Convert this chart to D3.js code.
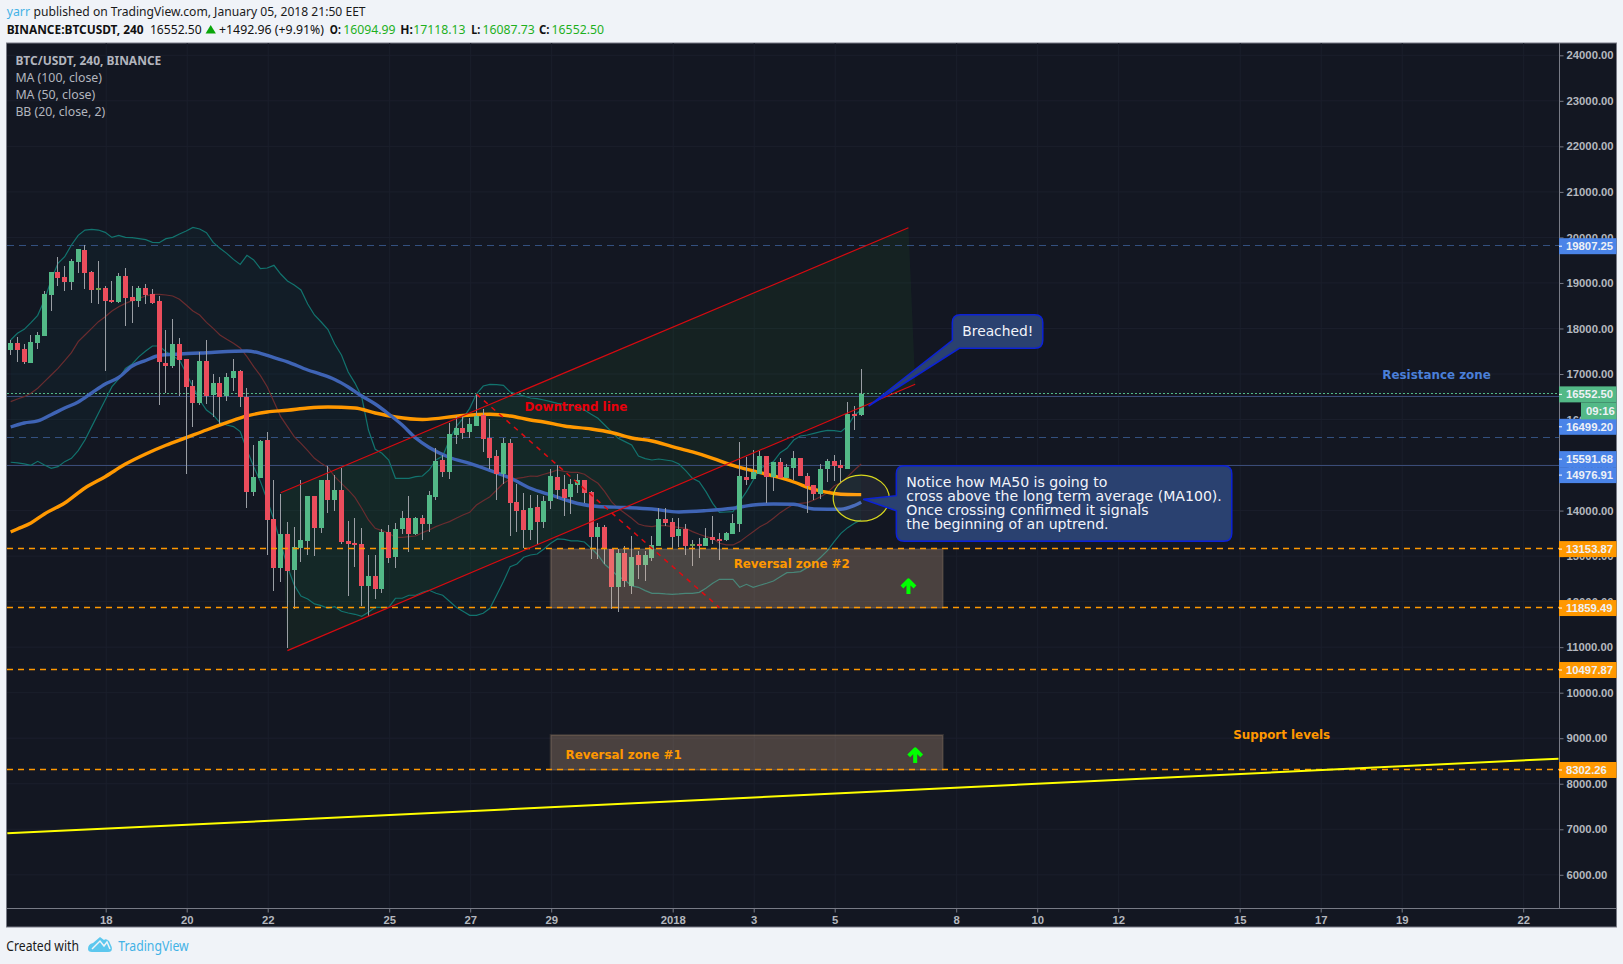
<!DOCTYPE html>
<html><head><meta charset="utf-8">
<script src="https://cdnjs.cloudflare.com/ajax/libs/d3/7.8.5/d3.min.js"></script>
<style>html,body{margin:0;padding:0;background:#f0f3f8;overflow:hidden}svg{display:block}</style>
</head><body><svg id="c" width="1623" height="964"></svg>
<script>
// ---- data: candles [open, high, low, close], 4h bars starting 15 Dec 2017 16:00 UTC
const candles = [
[17527,17747,17417,17681],[17681,17805,17264,17527],[17549,17652,17220,17264],[17242,17857,17242,17703],[17681,17923,17549,17857],
[17835,18823,17835,18757],[18735,19240,18384,19240],[19240,19570,18933,19108],[19130,19372,18823,19020],[19020,19526,18845,19482],
[19460,19745,19218,19745],[19723,19833,18867,19218],[19240,19260,18559,18845],[18845,19482,18537,18889],[18889,18933,17066,18603],
[18625,19042,18559,18581],[18581,19218,18559,19152],[19152,19328,18054,18669],[18691,18933,18120,18603],[18603,18933,18471,18889],
[18889,18977,18537,18735],[18757,18867,18537,18559],[18603,18713,16319,17264],[17242,17966,16583,17176],[17176,18208,17132,17659],
[17659,17791,16517,17308],[17330,17330,14804,16715],[16737,16868,15836,16363],[16363,17483,16319,17286],[17286,17747,16341,16517],
[16539,17000,16056,16803],[16803,16934,15902,16495],[16517,17022,16407,16934],[16912,17330,16627,17066],[17066,17088,16275,16495],
[16495,16693,14057,14409],[14409,15441,14321,14738],[14716,15551,14716,15529],[15551,15726,13025,13794],[13816,14672,12235,12740],
[12740,14365,12432,13486],[13486,13750,10976,12674],[12696,13640,11839,13201],[13179,14672,12871,13355],[13333,14321,13025,14321],
[14321,14321,13003,13618],[13618,14672,13508,14672],[14672,14980,13948,14233],[14233,14782,13991,14453],[14453,14936,13267,13311],
[13333,13772,12125,13267],[13289,13838,12762,13267],[13267,13618,11905,12345],[12345,13025,11686,12564],[12564,13025,12059,12279],
[12279,13596,12191,13530],[13530,13684,12849,12959],[12981,13728,12740,13596],[13596,13991,13486,13838],[13838,14321,13091,13486],
[13486,13860,13464,13838],[13838,13904,13355,13706],[13706,14431,13530,14343],[14299,15375,14233,15089],[15111,15221,14738,14848],
[14848,15924,14694,15682],[15660,16078,15463,15814],[15814,16078,15573,15704],[15726,16034,15595,15902],[15858,16561,15858,16078],
[16100,16231,15287,15573],[15595,16012,14914,15155],[15199,15331,14233,14804],[14804,15595,14584,15485],[15485,15573,13442,14167],
[14189,14584,13530,13991],[14013,14387,13179,13574],[13574,14343,13355,14057],[14079,14343,13245,13750],[13750,14321,13618,14211],
[14211,14914,14035,14760],[14738,15002,14255,14453],[14475,14782,13882,14277],[14299,14694,13926,14584],[14562,14804,14387,14672],
[14672,14672,14167,14387],[14409,14431,12937,13420],[13420,13728,12937,13640],[13640,13684,12827,13157],[13157,13157,11839,12322],
[12322,13157,11774,13069],[13069,13223,12322,12454],[12345,13442,12169,12981],[13025,13113,12498,12806],[12806,13113,12454,13025],
[12959,13442,12893,13245],[13223,14057,13223,13816],[13816,14057,13662,13728],[13750,13838,13179,13420],[13442,13838,13201,13596],
[13596,13706,13025,13223],[13223,13355,12784,13267],[13267,13398,12959,13245],[13223,13618,13223,13398],[13420,13882,13267,13355],
[13377,13508,12915,13355],[13355,13530,13333,13508],[13486,13926,13486,13728],[13706,15499,13530,14760],[14738,15177,14562,14672],
[14694,15331,14694,14848],[14804,15309,14804,15199],[15199,15199,14167,14738],[14738,15067,14431,15067],[15067,15155,14716,14716],
[14716,15024,14716,14958],[14936,15309,14672,15155],[15155,15155,14760,14760],[14760,14826,13948,14540],[14562,14562,14233,14365],
[14365,15024,14255,14914],[14914,15133,14628,15089],[15089,15221,14650,14980],[15002,15111,14628,14936],[14914,16385,14914,16122],
[16122,16297,15770,16100],[16094.99,17118.13,16087.73,16552.50]];

const bbUpper = [17747,17893,17981,18127,18288,18625,19064,19430,19577,19833,20045,20162,20177,20162,20111,20001,20045,20001,19994,19972,19950,19892,19884,19972,20001,20075,20140,20221,20184,20104,19892,19760,19650,19518,19408,19606,19504,19313,19328,19387,19196,19042,18955,18845,18537,18296,18142,17977,17659,17417,17044,16800,16500,15770,15346,15258,15111,14709,14709,14709,14745,14760,14892,15111,15199,15550,15843,16026,16246,16561,16736,16773,16766,16751,16605,16561,16517,16473,16458,16429,16392,16356,16334,16319,16268,16209,16114,16026,15880,15734,15587,15514,15441,15199,15141,15111,15133,15111,15089,15023,14877,14709,14636,14416,14160,13962,13969,13977,14196,14416,14672,14928,15002,15075,15272,15368,15550,15638,15660,15697,15733,15763,15756,15733,15858,16100,16209];
const bbLower = [15061,15046,15024,14995,15082,15002,14929,14965,15075,15148,15317,15551,15844,16136,16429,16722,16890,17125,17220,17381,17505,17615,17615,17491,17395,17308,17015,16722,16429,16210,16100,15932,15880,15844,15734,15331,14965,14636,14233,13794,13281,12769,12366,12125,12059,11949,11913,11854,11890,11788,11751,11722,11678,11766,11876,11876,11876,12074,12074,12140,12140,12206,12249,12183,12140,12008,11876,11788,11700,11700,11744,11854,12147,12440,12769,12827,12974,13025,13047,13157,13281,13377,13369,13333,13333,13311,13172,13025,12820,12696,12549,12476,12345,12315,12242,12183,12183,12169,12161,12169,12183,12183,12205,12293,12403,12491,12491,12491,12315,12381,12315,12359,12403,12454,12549,12637,12644,12659,12747,12842,12974,13120,13318,13501,13625,13721,13794];
const bbBasis = [16393,16451,16502,16576,16686,16832,16978,17125,17293,17469,17710,17857,18003,18149,18259,18384,18479,18552,18611,18662,18713,18750,18750,18735,18713,18640,18515,18384,18296,18135,18003,17857,17762,17674,17571,17381,17161,16964,16722,16393,16063,15844,15624,15478,15316,15148,15038,14950,14745,14599,14453,14291,14050,13794,13611,13559,13501,13413,13413,13428,13442,13515,13574,13647,13706,13757,13830,13904,13962,14123,14218,14306,14453,14599,14687,14709,14731,14760,14753,14797,14840,14892,14862,14840,14840,14797,14694,14599,14416,14196,14050,13940,13830,13706,13662,13647,13677,13669,13647,13633,13611,13537,13479,13428,13391,13281,13245,13245,13318,13428,13537,13647,13720,13830,13955,14050,14138,14160,14174,14233,14306,14394,14540,14614,14745,14892,15024];

const ma100Bars = [1,2,4,6,9,12,15,18,21,24,27,30,33,36,39,42,45,48,52,55,58,62,68,72,75,78,80,83,87,90,93,96,99,102,105,108,111,114,117,120,123,125,127];
const ma100Vals = [13530,13596,13728,13926,14167,14497,14745,15021,15243,15434,15601,15770,15930,16078,16166,16203,16253,16275,16253,16144,16056,16001,16089,16115,16078,15990,15946,15858,15792,15715,15595,15529,15404,15287,15149,14991,14870,14760,14628,14464,14376,14354,14350];
const ma50Bars = [1,3,5,7,9,11,13,15,17,19,21,23,26,30,36,38,40,42,45,47,49,51,53,55,57,59,61,63,66,69,72,75,78,81,85,88,92,96,100,104,108,111,114,117,120,124,126,127];
const ma50Vals = [15836,15924,15968,16106,16253,16385,16583,16780,16923,17176,17296,17406,17439,17468,17505,17455,17358,17268,17088,16993,16879,16715,16517,16341,16122,15880,15595,15386,15166,15035,14881,14716,14490,14343,14156,14090,14068,14035,13970,13998,14051,14123,14145,14138,14035,14029,14112,14183];

const priceTicks = d3.range(6000, 25000, 1000);
const timeTickDates = ["2017-12-18","2017-12-20","2017-12-22","2017-12-25","2017-12-27","2017-12-29","2018-01-01","2018-01-03","2018-01-05","2018-01-08","2018-01-10","2018-01-12","2018-01-15","2018-01-17","2018-01-19","2018-01-22"];
const timeTickLabels = ["18","20","22","25","27","29","2018","3","5","8","10","12","15","17","19","22"];

const blueDashLevels = [19807.25, 15591.68];
const blueSolidLevels = [16499.20, 14976.91];
const orangeLevels = [13153.87, 11859.49, 10497.87, 8302.26];
const lastPrice = 16552.50;
const blueLabels = [19807.25, 16499.20, 15591.68, 14976.91];
const blueLabelNudges = [0, 30, 21, 9];

// drawings, anchored at [bar number, price]
const channelUpper = [[41,14393],[134,20213]];
const channelLower = [[135,16774],[42,10924]];
const downtrend = [[70,16561],[106,11868]];
const supportLine = [[0.5,6910],[230.3,8551]];
const zone2 = {bars:[81,139.1], prices:[13153.87,11859.49]};
const zone1 = {bars:[81,139.1], prices:[9072,8302.26]};
const arrows = [[134,12498],[135,8787]];
const textNotes = [
 {t:"Downtrend line", at:[77.1,16187], c:"#e8000b"},
 {t:"Reversal zone #2", at:[108.1,12740], c:"#ff9800"},
 {t:"Reversal zone #1", at:[83.2,8545], c:"#ff9800"},
 {t:"Resistance zone", at:[204.2,16890], c:"#4a7fd8"},
 {t:"Support levels", at:[182.1,8985], c:"#ff9800"}];
const breached = {box:[[140.5,18302],[153.9,17564]], tip:[128.1,16297], lines:["Breached!"], size:13.8};
const notice = {box:[[132.2,14986],[181.9,13326]], tip:[127.3,14248], size:14.1,
 lines:["Notice how MA50 is going to","cross above the long term average (MA100).","Once crossing confirmed it signals","the beginning of an uptrend."]};
const crossingEllipse = [127,14273];

// ---- scales
const H4 = 4*3600*1000, t0 = Date.UTC(2017,11,15,16);
const barDate = b => new Date(t0 + (b-1)*H4);
const L = {left:7, right:1559, top:43, bottom:908, frameR:1616.5, frameB:927};
const x = d3.scaleUtc().domain([barDate(1), barDate(127)]).range([10.7, 861.2]);
const y = d3.scaleLinear().domain([6000,17000]).range([874.8,374]);
const X = b => x(barDate(b));
const svg = d3.select("#c");
svg.append("defs").append("clipPath").attr("id","plot").append("rect")
  .attr("x",L.left).attr("y",L.top).attr("width",L.right-L.left).attr("height",L.bottom-L.top);

const FONT = "'Noto Sans',sans-serif", VERD = "'DejaVu Sans',sans-serif", AR = "'Liberation Sans',Arial,sans-serif";
svg.append("rect").attr("width",1623).attr("height",964).attr("fill","#f0f3f8");
svg.append("rect").attr("x",6.5).attr("y",43).attr("width",L.frameR-6.5).attr("height",L.frameB-43)
  .attr("fill","#131722").attr("stroke","#787b86").attr("stroke-width",1);

const tickDates = timeTickDates.map(d=>new Date(d+"T00:00:00Z"));
const plot = svg.append("g").attr("clip-path","url(#plot)");
// grid
plot.append("g").selectAll("line").data(tickDates).join("line")
  .attr("x1",d=>x(d)+1).attr("x2",d=>x(d)+1).attr("y1",L.top).attr("y2",L.bottom).attr("stroke","#1b1f2c");
plot.append("g").selectAll("line").data(priceTicks).join("line")
  .attr("x1",L.left).attr("x2",L.right).attr("y1",d=>y(d)).attr("y2",d=>y(d)).attr("stroke","#1b1f2c");

// Bollinger
const barIdx = bbUpper.map((_,i)=>i+1);
plot.append("path").datum(barIdx).attr("fill","rgba(0,150,136,0.05)")
  .attr("d",d3.area().x(b=>X(b)).y0(b=>y(bbLower[b-1])).y1(b=>y(bbUpper[b-1])));
// channel fill
const chanPoly = channelUpper.concat(channelLower);
plot.append("path").datum(chanPoly).attr("fill","rgba(40,160,40,0.09)")
  .attr("d",d3.line().x(d=>X(d[0])).y(d=>y(d[1])));

// horizontal levels
const hl = (vals,stroke,dash,w)=>plot.append("g").selectAll("line").data(vals).join("line")
  .attr("x1",L.left).attr("x2",L.right).attr("y1",d=>Math.round(y(d))-.5).attr("y2",d=>Math.round(y(d))-.5)
  .attr("stroke",stroke).attr("stroke-width",w||1).attr("stroke-dasharray",dash);
hl(blueDashLevels,"#33507f","7 5");
hl(blueSolidLevels,"#3a4c78",null);
hl([lastPrice],"#53b987","2 2");

// BB + MA lines
[[bbUpper,"#12736e"],[bbLower,"#12736e"],[bbBasis,"#6a2c2f"]].forEach(([s,c])=>{
  plot.append("path").datum(barIdx).attr("fill","none").attr("stroke",c).attr("stroke-width",1.2)
    .attr("d",d3.line().x(b=>X(b)).y(b=>y(s[b-1])));
});
plot.append("path").datum(ma100Bars).attr("fill","none").attr("stroke","#ff9800").attr("stroke-width",3.4).attr("stroke-linejoin","round")
  .attr("d",d3.line().curve(d3.curveMonotoneX).x(b=>X(b)).y((b,i)=>y(ma100Vals[i])));
plot.append("path").datum(ma50Bars).attr("fill","none").attr("stroke","#3f64b5").attr("stroke-width",3.4).attr("stroke-linejoin","round")
  .attr("d",d3.line().curve(d3.curveMonotoneX).x(b=>X(b)).y((b,i)=>y(ma50Vals[i])));

// candles
const cg = plot.append("g").attr("shape-rendering","crispEdges");
const cs = cg.selectAll("g").data(candles).join("g");
const left = (d,i)=>Math.round(X(i+1)-2.5);
cs.append("rect").attr("x",(d,i)=>left(d,i)+2).attr("width",1)
  .attr("y",d=>y(d[1])).attr("height",d=>Math.max(1,y(d[2])-y(d[1]))).attr("fill","#9a9ea4");
cs.append("rect").attr("x",left).attr("width",5)
  .attr("y",d=>y(Math.max(d[0],d[3]))).attr("height",d=>Math.max(2,Math.abs(y(d[0])-y(d[3]))))
  .attr("fill",d=>d[3]>=d[0]?(d[3]-d[0]<50?"#6f9f4f":"#53b987"):"#eb4d5c");

// zones
[zone2,zone1].forEach(z=>{
  plot.append("rect").attr("x",X(z.bars[0])).attr("width",X(z.bars[1])-X(z.bars[0]))
   .attr("y",y(z.prices[0])).attr("height",y(z.prices[1])-y(z.prices[0]))
   .attr("fill","rgba(240,190,150,0.25)").attr("stroke","rgba(240,200,150,0.14)").attr("stroke-width",2);
});
hl(orangeLevels,"#ff9800","6 5",1.6);

// channel, downtrend, support
const ptLine = d3.line().x(d=>X(d[0])).y(d=>y(d[1]));
plot.append("path").attr("d",ptLine(channelUpper)).attr("stroke","#d60a10").attr("stroke-width",1.2).attr("fill","none");
plot.append("path").attr("d",ptLine(channelLower)).attr("stroke","#d60a10").attr("stroke-width",1.2).attr("fill","none");
plot.append("path").attr("d",ptLine(downtrend)).attr("stroke","#e00a10").attr("stroke-width",1.5).attr("fill","none").attr("stroke-dasharray","5 5");
plot.append("path").attr("d",ptLine(supportLine)).attr("stroke","#ffff00").attr("stroke-width",2).attr("fill","none");

// arrows
plot.append("g").selectAll("path").data(arrows).join("path")
  .attr("transform",d=>`translate(${X(d[0])},${y(d[1])})`)
  .attr("d","M0,15V3M-6.5,8L0,1.5L6.5,8").attr("fill","none").attr("stroke","#00ff00").attr("stroke-width",4).attr("stroke-linejoin","round");

// text notes
plot.append("g").selectAll("text").data(textNotes).join("text")
  .attr("x",d=>X(d.at[0])).attr("y",d=>y(d.at[1])).attr("fill",d=>d.c)
  .attr("font-family",VERD).attr("font-weight","bold").attr("font-size",11.9).text(d=>d.t);

// ellipse
plot.append("ellipse").attr("cx",X(crossingEllipse[0])).attr("cy",y(crossingEllipse[1])).attr("rx",28).attr("ry",23)
  .attr("fill","rgba(255,255,255,0.06)").attr("stroke","#d8d81e").attr("stroke-width",1.2);

// callouts
[breached,notice].forEach(n=>{
  const x0=X(n.box[0][0]), x1=X(n.box[1][0]), y0=y(n.box[0][1]), y1=y(n.box[1][1]), r=8;
  const tx=X(n.tip[0]), ty=y(n.tip[1]);
  const single = n.lines.length===1;
  const d = single
   ? `M${x0+r},${y0}H${x1-r}Q${x1},${y0} ${x1},${y0+r}V${y1-r}Q${x1},${y1} ${x1-r},${y1}H${x0+7}L${tx},${ty}L${x0},${y1-8}V${y0+r}Q${x0},${y0} ${x0+r},${y0}Z`
   : `M${x0+r},${y0}H${x1-r}Q${x1},${y0} ${x1},${y0+r}V${y1-r}Q${x1},${y1} ${x1-r},${y1}H${x0+r}Q${x0},${y1} ${x0},${y1-r}V${y0+45}L${tx},${ty}L${x0},${y0+30}V${y0+r}Q${x0},${y0} ${x0+r},${y0}Z`;
  plot.append("path").attr("d",d).attr("fill","#2a4170").attr("stroke","#0c22d6").attr("stroke-width",1.5);
  n.lines.forEach((t,i)=>{
    plot.append("text").attr("x",x0+10).attr("y",single?y0+21.5:y0+21.5+i*14)
      .attr("fill","#f2f4fa").attr("font-family",VERD).attr("font-size",n.size).text(t);
  });
});

// axes
const yAxis = d3.axisRight(y).tickValues(priceTicks).tickFormat(d3.format(".2f")).tickSize(4).tickPadding(3);
const ya = svg.append("g").attr("transform",`translate(${L.right+.5},0)`).call(yAxis);
const xAxis = d3.axisBottom(x).tickValues(tickDates).tickFormat((d,i)=>timeTickLabels[i]).tickSize(4).tickPadding(3);
const xa = svg.append("g").attr("transform",`translate(0.5,${L.bottom+.5})`).call(xAxis);
[ya,xa].forEach(a=>{
  a.selectAll("text").attr("font-family",AR).attr("font-size",11.3).attr("font-weight","bold").attr("fill","#b4b7bf");
  a.selectAll("line").attr("stroke","#787b86");
  a.select(".domain").remove();
});
svg.append("line").attr("x1",L.right+.5).attr("x2",L.right+.5).attr("y1",L.top).attr("y2",L.bottom+.5).attr("stroke","#787b86");
svg.append("line").attr("x1",L.left).attr("x2",L.frameR).attr("y1",L.bottom+.5).attr("y2",L.bottom+.5).attr("stroke","#787b86");

// price labels
const pl = svg.append("g");
const tag = (val,cy,fill)=>{
  pl.append("rect").attr("x",L.right).attr("y",cy-8).attr("width",L.frameR-L.right).attr("height",16).attr("fill",fill);
  pl.append("line").attr("x1",L.right).attr("x2",L.right+3).attr("y1",cy).attr("y2",cy).attr("stroke","#fff");
  pl.append("text").attr("x",L.right+7).attr("y",cy+4).attr("fill","#eef1f6").attr("font-family",AR).attr("font-weight","bold").attr("font-size",11.3).text(val);
};
blueLabels.forEach((v,i)=>tag(v.toFixed(2),y(v)+blueLabelNudges[i],"#4a84e8"));
orangeLevels.forEach(v=>tag(v.toFixed(2),y(v),"#ff9800"));
tag(lastPrice.toFixed(2),y(lastPrice),"#53b987");
pl.append("rect").attr("x",1581).attr("y",y(lastPrice)+8).attr("width",L.frameR-1581).attr("height",17).attr("fill","#53b987");
pl.append("text").attr("x",1586).attr("y",y(lastPrice)+20.5).attr("fill","#eef1f6").attr("font-family",AR).attr("font-weight","bold").attr("font-size",11.3).text("09:16");

// text fitted to measured widths (the reference's UI face is narrower than the installed ones)
const put=(xp,yp,t,c,w,b,fs)=>{
  const e=svg.append("text").attr("x",xp).attr("y",yp).attr("fill",c).attr("font-family",FONT).attr("font-size",fs||12.6).attr("font-weight",b?"bold":null).text(t);
  if(w) e.attr("textLength",w).attr("lengthAdjust","spacingAndGlyphs");
  return e;
};
// legend
[["BTC/USDT, 240, BINANCE",145.9,1],["MA (100, close)",86.6,0],["MA (50, close)",79.9,0],["BB (20, close, 2)",89.8,0]]
  .forEach((r,i)=>put(15.4,65+i*17,r[0],"#b2b5be",r[1],r[2]));

// header
put(6.7,16,"yarr","#43b2e6",23.3);
put(33.6,16,"published on TradingView.com, January 05, 2018 21:50 EET","#1a1a1a",332);
const green="#1eb01e", ink="#111";
put(6.7,33.5,"BINANCE:BTCUSDT, 240",ink,137,1);
put(149.9,33.5,"16552.50",ink,51.8);
svg.append("path").attr("d","M205.6,33.5L210.7,25L215.9,33.5Z").attr("fill","#0aa60a");
put(219,33.5,"+1492.96 (+9.91%)",ink,105);
[["O:",329.8,11,"16094.99",343.2],["H:",400.2,12.6,"17118.13",413.2],["L:",471.3,9,"16087.73",482.4],["C:",539,10.5,"16552.50",551.6]].forEach(r=>{
  put(r[1],33.5,r[0],ink,r[2],1); put(r[4],33.5,r[3],green,52.4);
});

// footer
put(6.3,951,"Created with","#1a1a1a",72.7,0,13.5);
svg.append("path").attr("d","M88,949Q88,944 93,943L100,937L104,940Q106,938 109,941L111.7,947Q113,952 108,952L92,952Q88,952 88,949Z").attr("fill","#5cc7ee");
svg.append("path").attr("d","M92,949L100,941L104,946L107,942L110,949").attr("fill","none").attr("stroke","#f0f3f8").attr("stroke-width",1.5);
put(118.3,951,"TradingView","#43b2e6",70.4,0,13.5);
</script></body></html>
